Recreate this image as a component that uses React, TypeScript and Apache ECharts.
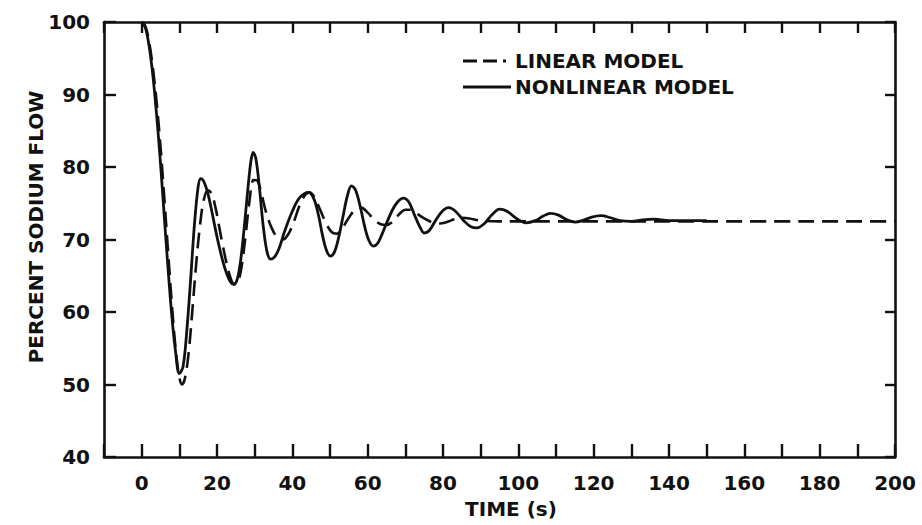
import React, { useEffect, useRef } from "react";
import * as echarts from "echarts";

// Time (s) and percent sodium flow for the two models
const nonlinearTime = [
  0, 1, 2, 3, 4, 5, 6, 7, 8, 9, 10, 11, 12, 13, 14, 15, 15.7, 16.5, 17.5, 18.5,
  19.5, 20.5, 21.5, 22.5, 23.5, 24.4, 25.3, 26.2, 27.2, 28.2, 29, 29.6, 30.3, 31.2,
  32.2, 33.2, 34.2, 35.3, 36.5, 38, 40, 42, 44.3, 45.8, 47, 48, 49, 50.1, 51.2, 52.3,
  53.5, 54.6, 55.7, 56.8, 58, 59.2, 60.3, 61.5, 62.8, 64.5, 66.5, 68, 69.5, 71, 72.5,
  74, 75, 76.3, 78, 79.8, 81.5, 83.3, 85.5, 87.3, 89, 91, 93, 95, 97, 99.5, 102, 104.5,
  106.5, 108.5, 110.5, 113, 115, 117, 119.5, 122, 124.5, 127, 130, 133, 136, 140, 145, 150,
];
const nonlinearFlow = [
  100, 99.2, 96.6, 92.5, 87, 80.5, 73.2, 66, 59.5, 54.5, 51.5, 52.5, 57.5, 64.5, 72,
  77.3, 78.4, 78, 76.5, 74.2, 71.6, 69.2, 67.1, 65.4, 64.2, 63.8, 64.4, 66.8, 71.5, 77,
  80.8, 82, 81.2, 77.5, 72.2, 68.5, 67.3, 67.6, 68.8, 71.2, 73.9, 75.8, 76.5, 75.5, 73.2,
  70.6, 68.6, 67.7, 68.3, 70.3, 73.3, 76, 77.4, 76.8, 74.6, 71.8, 69.9, 69.1, 69.6, 71.6,
  74, 75.2, 75.7, 75.1, 73.3, 71.6, 70.9, 71.2, 72.6, 73.9, 74.4, 73.9, 72.6, 71.8, 71.6,
  72.2, 73.4, 74.2, 73.9, 72.9, 72.3, 72.6, 73.2, 73.6, 73.4, 72.7, 72.4, 72.6, 73.1,
  73.3, 73, 72.6, 72.5, 72.7, 72.8, 72.6, 72.6, 72.6,
];

const linearTime = [
  0, 1, 2, 3, 4, 5, 6, 7, 8, 9, 10, 10.7, 11.5, 12.5, 13.5, 14.5, 15.5, 16.5, 17.6, 18.6,
  19.6, 20.6, 21.6, 22.6, 23.6, 24.6, 25.6, 26.6, 27.6, 28.6, 29.7, 30.7, 31.8, 33, 34.5,
  36, 37.5, 39, 40.5, 42, 43.5, 44.5, 45.8, 47.3, 49, 50.5, 51.8, 53.2, 55, 56.8, 58.3,
  60, 61.8, 63.5, 65, 66.5, 68.2, 70, 71.5, 73, 75, 77, 79, 81, 83, 85, 87, 90, 95, 200,
];
const linearFlow = [
  100, 99.4, 97.2, 93.6, 88.8, 82.8, 75.8, 68.4, 61.2, 55, 51, 50, 50.9, 54.5, 60.5,
  66.8, 72, 75.5, 76.8, 76.3, 74.4, 71.7, 69, 66.6, 64.7, 63.8, 64.2, 66.5, 70.6, 75.2,
  78.2, 78.1, 76.3, 73.8, 71.6, 70.3, 70, 70.8, 72.6, 74.8, 76.2, 76.5, 75.9, 74.2, 72.2,
  71, 70.8, 71.5, 73, 74.2, 74.4, 73.7, 72.7, 72.1, 72, 72.4, 73.4, 74.1, 74.1, 73.6,
  72.9, 72.4, 72.2, 72.4, 72.8, 73, 72.9, 72.6, 72.5, 72.5,
];

const legendLabels = ["LINEAR MODEL", "NONLINEAR MODEL"];
const xTitle = "TIME (s)";
const yTitle = "PERCENT SODIUM FLOW";

const FONT = "'DejaVu Sans', sans-serif";
const INK = "#111";

const toPairs = (xs: number[], ys: number[]) => xs.map((x, i) => [x, ys[i]]);

export default function App() {
  const ref = useRef<HTMLDivElement>(null);

  useEffect(() => {
    if (!ref.current) return;
    const chart = echarts.init(ref.current, null, { renderer: "svg" });

    const labelStyle = {
      color: INK,
      fontFamily: FONT,
      fontSize: 20,
      fontWeight: "bold" as const,
    };
    const axisLine = () => ({ show: true, onZero: false, lineStyle: { color: INK, width: 2.6 } });
    const axisTick = (length: number) => ({
      show: true,
      inside: true,
      length,
      lineStyle: { color: INK, width: 2.4 },
    });

    const textStyle = (text: string, extra: Record<string, unknown> = {}) => ({
      text,
      fill: INK,
      fontFamily: FONT,
      fontSize: 20,
      fontWeight: "bold",
      ...extra,
    });

    chart.setOption({
      animation: false,
      backgroundColor: "#fff",
      grid: { left: 104, right: 27, top: 22, bottom: 68 },
      xAxis: [
        {
          type: "value",
          position: "bottom",
          min: -10,
          max: 200,
          interval: 10,
          axisLine: axisLine(),
          axisTick: axisTick(13),
          axisLabel: {
            ...labelStyle,
            margin: 16,
            formatter: (v: number) => (v >= 0 && v % 20 === 0 ? String(v) : ""),
          },
          splitLine: { show: false },
        },
        {
          type: "value",
          position: "top",
          min: -10,
          max: 200,
          interval: 10,
          axisLine: axisLine(),
          axisTick: axisTick(11),
          axisLabel: { show: false },
          splitLine: { show: false },
        },
      ],
      yAxis: [
        {
          type: "value",
          position: "left",
          min: 40,
          max: 100,
          interval: 10,
          axisLine: axisLine(),
          axisTick: axisTick(12),
          axisLabel: { ...labelStyle, margin: 14 },
          splitLine: { show: false },
        },
        {
          type: "value",
          position: "right",
          min: 40,
          max: 100,
          interval: 10,
          axisLine: axisLine(),
          axisTick: axisTick(10),
          axisLabel: { show: false },
          splitLine: { show: false },
        },
      ],
      series: [
        {
          name: legendLabels[0],
          type: "line",
          xAxisIndex: 0,
          yAxisIndex: 0,
          data: toPairs(linearTime, linearFlow),
          smooth: 0.35,
          showSymbol: false,
          lineStyle: { color: INK, width: 2.6, type: [16, 8] },
        },
        {
          name: legendLabels[1],
          type: "line",
          xAxisIndex: 0,
          yAxisIndex: 0,
          data: toPairs(nonlinearTime, nonlinearFlow),
          smooth: 0.35,
          showSymbol: false,
          lineStyle: { color: INK, width: 2.8 },
        },
      ],
      graphic: [
        // legend keys
        {
          type: "line",
          shape: { x1: 463, y1: 61, x2: 506, y2: 61 },
          style: { stroke: INK, lineWidth: 3, lineDash: [14, 6] },
        },
        {
          type: "text",
          x: 515,
          y: 61,
          style: textStyle(legendLabels[0], { verticalAlign: "middle", textVerticalAlign: "middle" }),
        },
        {
          type: "line",
          shape: { x1: 463, y1: 87, x2: 511, y2: 87 },
          style: { stroke: INK, lineWidth: 3 },
        },
        {
          type: "text",
          x: 515,
          y: 87,
          style: textStyle(legendLabels[1], { verticalAlign: "middle", textVerticalAlign: "middle" }),
        },
        // axis titles
        {
          type: "text",
          x: 511,
          y: 509,
          style: textStyle(xTitle, {
            align: "center",
            textAlign: "center",
            verticalAlign: "middle",
            textVerticalAlign: "middle",
          }),
        },
        {
          type: "text",
          x: 36,
          y: 227,
          rotation: Math.PI / 2,
          style: textStyle(yTitle, {
            align: "center",
            textAlign: "center",
            verticalAlign: "middle",
            textVerticalAlign: "middle",
          }),
        },
      ],
    });

    return () => chart.dispose();
  }, []);

  return (
    <div
      ref={ref}
      style={{ position: "fixed", left: 0, top: 0, width: 922, height: 525, background: "#fff" }}
    />
  );
}
